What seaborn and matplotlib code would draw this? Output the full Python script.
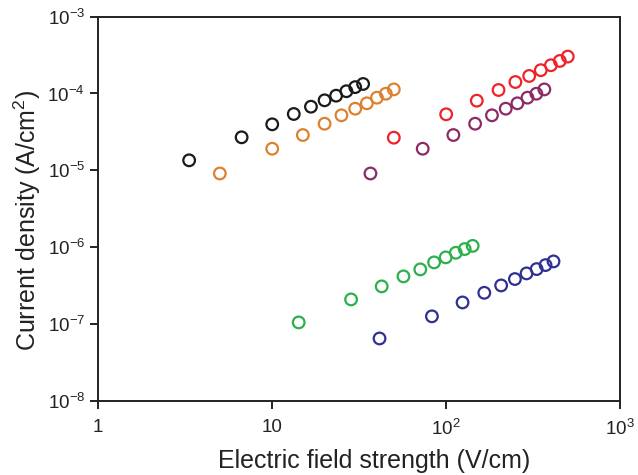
import numpy as np
import pandas as pd
import matplotlib
matplotlib.use('Agg')
import matplotlib.pyplot as plt
import seaborn as sns

# data (x in V/cm, y in A/cm^2)
black_x = [3.33, 6.67, 10, 13.3, 16.7, 20, 23.3, 26.7, 30, 33.3]
black_y = [1.35e-5, 2.69e-5, 3.97e-5, 5.41e-5, 6.73e-5, 8.15e-5, 9.36e-5, 1.07e-4, 1.21e-4, 1.33e-4]

orange_x = [5, 10, 15, 20, 25, 30, 35, 40, 45, 50]
orange_y = [9.1e-6, 1.91e-5, 2.88e-5, 4.04e-5, 5.2e-5, 6.34e-5, 7.45e-5, 8.82e-5, 9.93e-5, 1.13e-4]

red_x = [50, 100, 150, 200, 250, 300, 350, 400, 450, 500]
red_y = [2.66e-5, 5.36e-5, 8.06e-5, 1.11e-4, 1.41e-4, 1.69e-4, 2.01e-4, 2.33e-4, 2.65e-4, 3.02e-4]

purple_x = [36.7, 73.3, 110, 146.7, 183.3, 220, 256.7, 293.3, 330, 366.7]
purple_y = [9.1e-6, 1.91e-5, 2.88e-5, 4.04e-5, 5.2e-5, 6.34e-5, 7.45e-5, 8.82e-5, 9.93e-5, 1.13e-4]

green_x = [14.2, 28.4, 42.6, 56.8, 71, 85.2, 99.4, 113.6, 127.8, 142]
green_y = [1.05e-7, 2.09e-7, 3.09e-7, 4.17e-7, 5.14e-7, 6.34e-7, 7.37e-7, 8.46e-7, 9.45e-7, 1.04e-6]

blue_x = [41.4, 82.8, 124.2, 165.6, 207, 248.4, 289.8, 331.2, 372.6, 414]
blue_y = [6.49e-8, 1.26e-7, 1.91e-7, 2.55e-7, 3.18e-7, 3.85e-7, 4.56e-7, 5.19e-7, 5.85e-7, 6.53e-7]

series = [
    (black_x, black_y, '#1a1a1a'),
    (orange_x, orange_y, '#dd8130'),
    (red_x, red_y, '#ee2229'),
    (purple_x, purple_y, '#8c2a66'),
    (green_x, green_y, '#2bb04b'),
    (blue_x, blue_y, '#2e3192'),
]

x_ticks = [1, 10, 100, 1000]
x_ticklabels = ['1', '10', '10$^{2}$', '10$^{3}$']
y_ticks = [1e-8, 1e-7, 1e-6, 1e-5, 1e-4, 1e-3]
y_ticklabels = ['10$^{-8}$', '10$^{-7}$', '10$^{-6}$', '10$^{-5}$', '10$^{-4}$', '10$^{-3}$']

sns.set_style('ticks')
plt.rcParams['font.family'] = ['Liberation Sans', 'DejaVu Sans']
plt.rcParams['mathtext.fontset'] = 'custom'
plt.rcParams['mathtext.rm'] = 'Liberation Sans'
plt.rcParams['mathtext.it'] = 'Liberation Sans'
plt.rcParams['mathtext.default'] = 'regular'

fig = plt.figure(figsize=(6.38, 4.75), dpi=100)
ax = fig.add_axes([0.154, 0.156, 0.818, 0.809])

for xs, ys, col in series:
    sns.scatterplot(x=xs, y=ys, ax=ax, marker='o', s=70,
                    facecolors='none', edgecolor=col, linewidth=1.6)

ax.set_xscale('log')
ax.set_yscale('log')
ax.set_xlim(1, 1000)
ax.set_ylim(1e-8, 1e-3)
ax.set_xticks(x_ticks)
ax.set_xticklabels(x_ticklabels)
ax.set_yticks(y_ticks)
ax.set_yticklabels(y_ticklabels)
ax.minorticks_off()
ax.tick_params(direction='out', length=6, width=1.4, labelsize=13.5, colors='#222222')
ax.tick_params(axis='x', pad=7)

for sp in ax.spines.values():
    sp.set_visible(True)
    sp.set_linewidth(1.4)
    sp.set_color('#222222')

ax.set_xlabel('Electric field strength (V/cm)', fontsize=18, color='#222222')
ax.set_ylabel('Current density (A/cm$^{2}$)', fontsize=18, color='#222222')
# label positions (axes fraction), reference labels sit slightly off-centre
ax.xaxis.set_label_coords(0.528, -0.125)
ax.yaxis.set_label_coords(-0.105, 0.47)

fig.savefig('out.png', dpi=100)
